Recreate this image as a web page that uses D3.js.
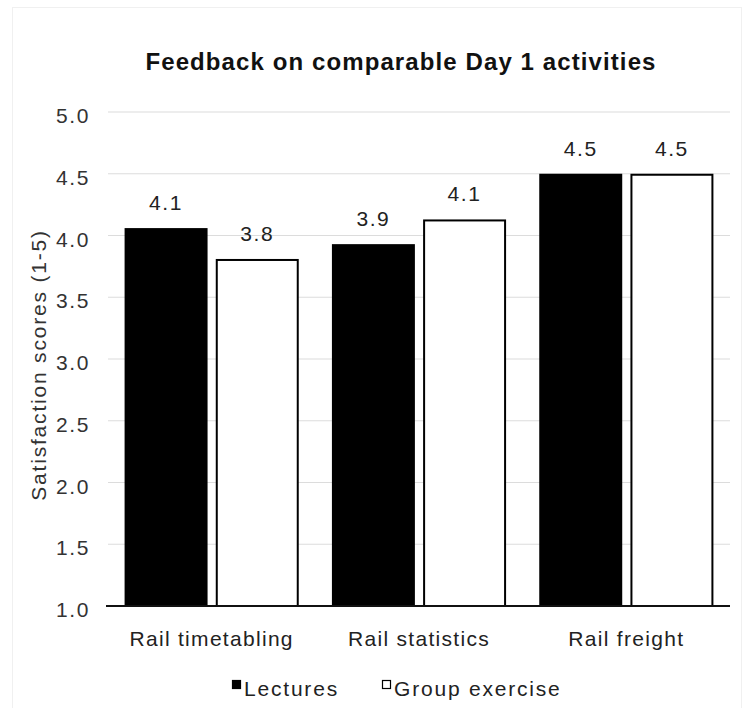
<!DOCTYPE html>
<html>
<head>
<meta charset="utf-8">
<script src="https://cdn.jsdelivr.net/npm/d3@7"></script>
<style>
  html, body { margin: 0; padding: 0; background: #fff; }
  svg { display: block; font-family: "Liberation Sans", Arial, Helvetica, sans-serif; }
</style>
</head>
<body>
<svg id="chart" width="745" height="708"></svg>
<script>
// Satisfaction scores per Day 1 activity, by teaching format
const categories = ["Rail timetabling", "Rail statistics", "Rail freight"];
const seriesNames = ["Lectures", "Group exercise"];
const lectures = [4.06, 3.93, 4.50];
const groupExercise = [3.81, 4.13, 4.50];
const yTicks = [1.0, 1.5, 2.0, 2.5, 3.0, 3.5, 4.0, 4.5, 5.0];

const rows = categories.map((c, i) => ({
  category: c,
  values: [
    { key: seriesNames[0], value: lectures[i] },
    { key: seriesNames[1], value: groupExercise[i] }
  ]
}));

const svg = d3.select("#chart");
const W = 745, H = 708;
const margin = { left: 108, right: 15, top: 112, bottom: 102 };
const plotW = W - margin.left - margin.right;
const plotH = H - margin.top - margin.bottom;

const FONT = 21;
const SPACING = "1.6px";

// faint frame around the chart area
svg.append("rect")
  .attr("x", 12.5).attr("y", 7.5)
  .attr("width", 729).attr("height", 720)
  .attr("fill", "none").attr("stroke", "#f0f0f0");

const g = svg.append("g").attr("transform", `translate(${margin.left},${margin.top})`);

const x0 = d3.scaleBand().domain(categories).range([0, plotW]).paddingInner(0.16).paddingOuter(0.08);
const x1 = d3.scaleBand().domain(seriesNames).range([0, x0.bandwidth()]).paddingInner(0.09);
const y = d3.scaleLinear().domain([1, 5]).range([plotH, 0]);
const color = d3.scaleOrdinal().domain(seriesNames).range(["#000", "#fff"]);

// gridlines
g.append("g")
  .selectAll("line")
  .data(yTicks.filter(t => t > 1))
  .join("line")
  .attr("x1", 0).attr("x2", plotW)
  .attr("y1", d => y(d)).attr("y2", d => y(d))
  .attr("stroke", "#dcdcdc").attr("stroke-width", 1.2);

// y axis labels
const yAxis = d3.axisLeft(y).tickValues(yTicks).tickFormat(d3.format(".1f")).tickSize(0).tickPadding(18);
const ya = g.append("g").call(yAxis);
ya.select(".domain").remove();
ya.selectAll("text")
  .attr("font-size", FONT).attr("fill", "#333")
  .attr("letter-spacing", SPACING)
  .attr("dy", "0.5em")
  .attr("font-family", "Liberation Sans, Arial, sans-serif");

// bars
const groups = g.selectAll(".grp").data(rows).join("g")
  .attr("class", "grp")
  .attr("transform", d => `translate(${x0(d.category)},0)`);

groups.selectAll("rect").data(d => d.values).join("rect")
  .attr("x", d => x1(d.key) + 1)
  .attr("width", x1.bandwidth() - 2)
  .attr("y", d => y(d.value) + 1)
  .attr("height", d => y(1) - y(d.value) - 1)
  .attr("fill", d => color(d.key))
  .attr("stroke", "#000")
  .attr("stroke-width", 2);

// value labels
groups.selectAll("text.val").data(d => d.values).join("text")
  .attr("class", "val")
  .attr("x", d => x1(d.key) + x1.bandwidth() / 2)
  .attr("y", d => y(d.value) - 18)
  .attr("text-anchor", "middle")
  .attr("font-size", FONT).attr("fill", "#222")
  .attr("letter-spacing", SPACING)
  .text(d => d3.format(".1f")(d.value));

// baseline
g.append("line")
  .attr("x1", -2).attr("x2", plotW)
  .attr("y1", y(1)).attr("y2", y(1))
  .attr("stroke", "#111").attr("stroke-width", 2);

// category axis
const xAxis = d3.axisBottom(x0).tickSize(0).tickPadding(25);
const xa = g.append("g").attr("transform", `translate(0,${plotH})`).call(xAxis);
xa.select(".domain").remove();
xa.selectAll("text")
  .attr("font-size", FONT).attr("fill", "#222")
  .attr("letter-spacing", "1.3px")
  .attr("font-family", "Liberation Sans, Arial, sans-serif");

// title
svg.append("text")
  .attr("x", 401).attr("y", 70)
  .attr("text-anchor", "middle")
  .attr("font-size", 24).attr("font-weight", "bold").attr("fill", "#111")
  .attr("letter-spacing", "1.1px")
  .text("Feedback on comparable Day 1 activities");

// y axis title
svg.append("text")
  .attr("transform", "translate(46,365) rotate(-90)")
  .attr("text-anchor", "middle")
  .attr("font-size", FONT).attr("fill", "#333")
  .attr("letter-spacing", "1.8px")
  .text("Satisfaction scores (1-5)");

// legend
const legendItems = [
  { key: seriesNames[0], x: 232 },
  { key: seriesNames[1], x: 382 }
];
const lg = svg.append("g");
lg.selectAll("rect").data(legendItems).join("rect")
  .attr("x", d => d.x + 0.5).attr("y", 680.5)
  .attr("width", 8).attr("height", 8)
  .attr("fill", d => color(d.key))
  .attr("stroke", "#000").attr("stroke-width", 1.2);
lg.selectAll("text").data(legendItems).join("text")
  .attr("x", d => d.x + 12).attr("y", 696)
  .attr("font-size", FONT).attr("fill", "#222")
  .attr("letter-spacing", "1.8px")
  .text(d => d.key);
</script>
</body>
</html>
